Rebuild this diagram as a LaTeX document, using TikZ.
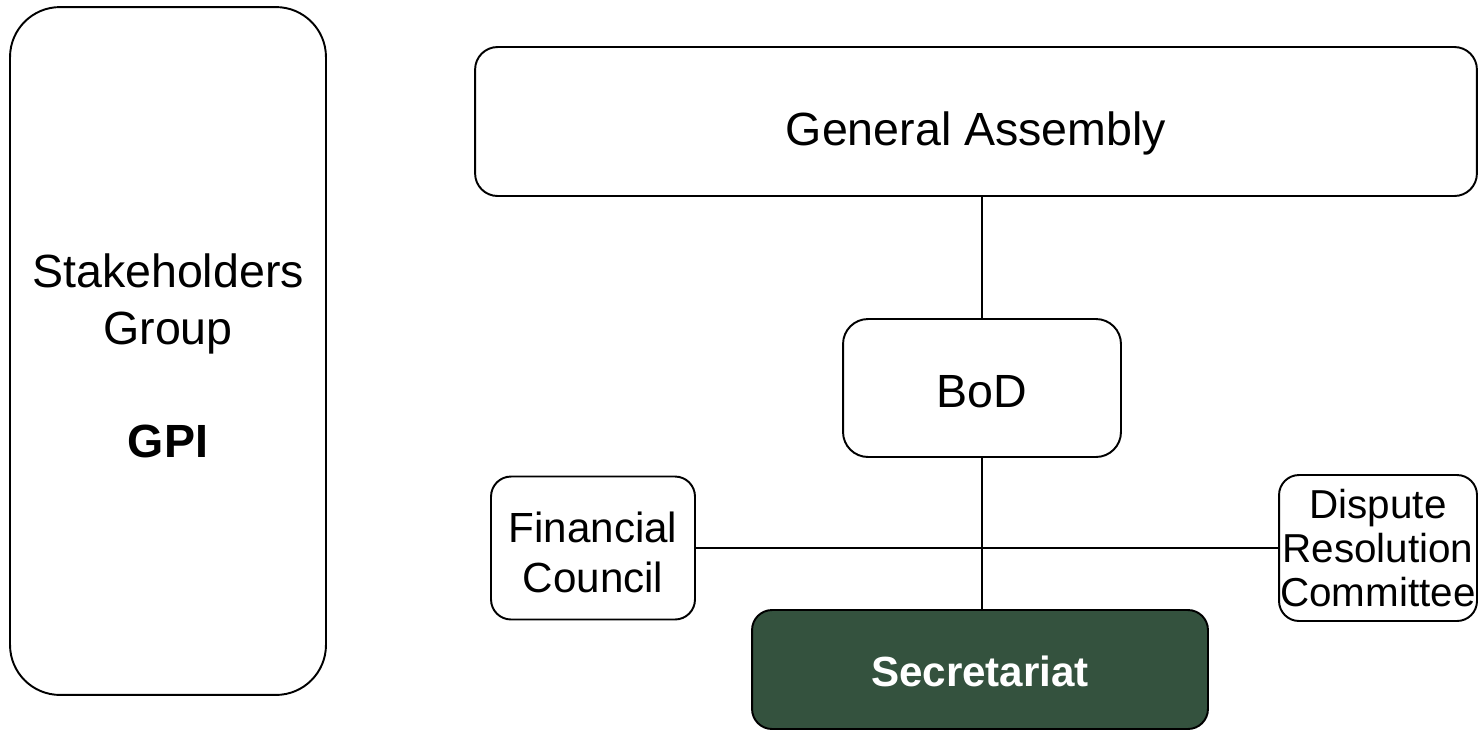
\documentclass[tikz,border=0pt]{standalone}
\usepackage{fontspec}
\setmainfont{Liberation Sans}
\definecolor{secgreen}{RGB}{52,82,62}
\tikzset{
  box/.style={draw, line width=1.1pt, align=center, inner sep=0pt},
  bigtext/.style={font=\fontsize{26.5}{32.4}\selectfont},
  smalltext/.style={font=\fontsize{23}{25.3}\selectfont},
  link/.style={line width=0.8pt}
}
\begin{document}
\begin{tikzpicture}[x=0.02cm, y=-0.02cm]
        \useasboundingbox (0, 0) rectangle (1479, 731);
        % left column
        \node[box, bigtext, rounded corners=1cm, minimum width=6.32cm, minimum height=13.76cm]
          (stake) at (168, 351) {\rule{0pt}{24.7pt}Stakeholders\\Group\\[32.4pt]\textbf{GPI}};
        % chart
        \node[box, bigtext, rounded corners=0.45cm, minimum width=20.04cm, minimum height=2.98cm]
          (ga) at (976, 121.5) {\rule{0pt}{32.6pt}General Assembly};
        \node[box, bigtext, rounded corners=0.5cm, minimum width=5.56cm, minimum height=2.76cm]
          (bod) at (982, 388) {\rule{0pt}{22.4pt}BoD};
        \node[box, font=\fontsize{24}{28.4}\selectfont, rounded corners=0.4cm,
          minimum width=4.08cm, minimum height=2.86cm]
          (fin) at (593, 548) {\rule{0pt}{22pt}Financial\\Council};
        \node[box, smalltext, rounded corners=0.4cm, minimum width=3.96cm, minimum height=2.92cm]
          (disp) at (1378, 548) {Dispute\\Resolution\\Committee};
        \node[box, fill=secgreen, text=white, font=\fontsize{24}{28}\selectfont\bfseries,
          rounded corners=0.4cm, minimum width=9.12cm, minimum height=2.38cm]
          (sec) at (980, 669.5) {\rule{0pt}{19pt}Secretariat};
        % connectors
        \draw[link] (bod.north) -- (bod.north |- ga.south);
        \draw[link] (fin.east) -- (disp.west);
        \draw[link] (bod.south) -- (bod.south |- sec.north);
      \end{tikzpicture}
\end{document}
